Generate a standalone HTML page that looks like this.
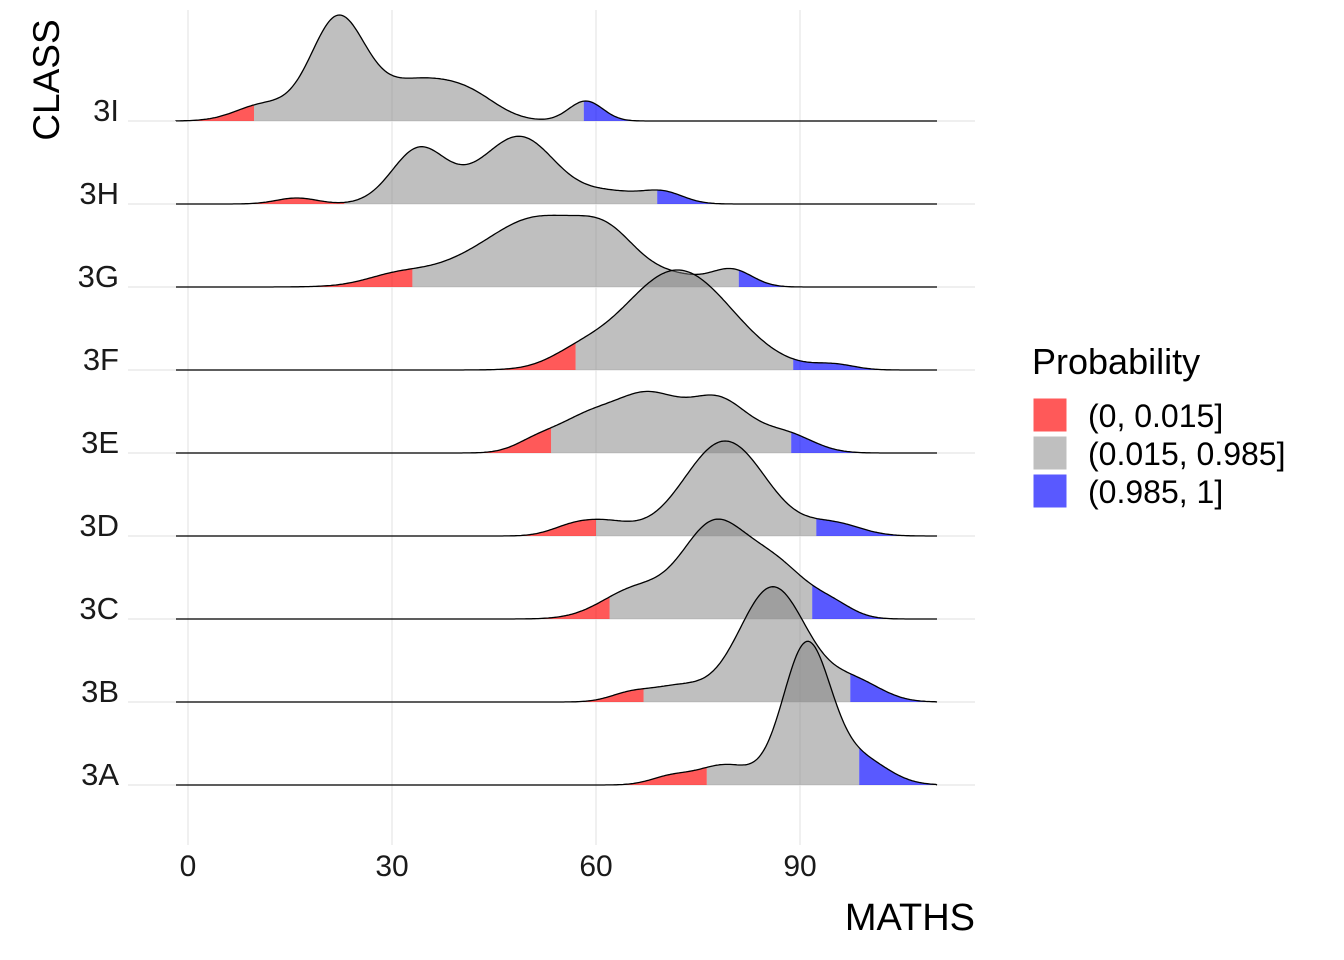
<!DOCTYPE html>
<html><head><meta charset="utf-8"><style>
body{margin:0;background:#fff;}
svg{display:block;font-family:"Liberation Sans",Arial,sans-serif;}
</style></head><body>
<svg id="s" width="1344" height="960" xmlns="http://www.w3.org/2000/svg">
<rect width="1344" height="960" fill="#fff"/>
<g stroke="#e5e5e5" stroke-width="1.2">
<line x1="188" y1="10" x2="188" y2="845"/><line x1="392" y1="10" x2="392" y2="845"/>
<line x1="596" y1="10" x2="596" y2="845"/><line x1="800" y1="10" x2="800" y2="845"/>
<line x1="128" y1="121" x2="975" y2="121"/><line x1="128" y1="204" x2="975" y2="204"/>
<line x1="128" y1="287" x2="975" y2="287"/><line x1="128" y1="370" x2="975" y2="370"/>
<line x1="128" y1="453" x2="975" y2="453"/><line x1="128" y1="536" x2="975" y2="536"/>
<line x1="128" y1="619" x2="975" y2="619"/><line x1="128" y1="702" x2="975" y2="702"/>
<line x1="128" y1="785" x2="975" y2="785"/>
</g>
<g id="ridges"></g>
<g font-size="31" fill="#1a1a1a" text-anchor="end">
<text x="119" y="121">3I</text><text x="119" y="204">3H</text><text x="119" y="287">3G</text>
<text x="119" y="370">3F</text><text x="119" y="453">3E</text><text x="119" y="536">3D</text>
<text x="119" y="619">3C</text><text x="119" y="702">3B</text><text x="119" y="785">3A</text>
</g>
<g font-size="30" fill="#1a1a1a" text-anchor="middle">
<text x="188" y="876">0</text><text x="392" y="876">30</text><text x="596" y="876">60</text><text x="800" y="876">90</text>
</g>
<text x="975" y="930" font-size="38" text-anchor="end" fill="#000">MATHS</text>
<text transform="translate(59,80) rotate(-90)" font-size="37" text-anchor="middle" fill="#000">CLASS</text>
<text x="1032" y="374" font-size="36" fill="#000">Probability</text>
<rect x="1033" y="398" width="34" height="34" fill="rgb(255,89,89)" stroke="#fff"/>
<rect x="1033" y="436" width="34" height="34" fill="rgb(191,191,191)" stroke="#fff"/>
<rect x="1033" y="474" width="34" height="34" fill="rgb(89,89,255)" stroke="#fff"/>
<g font-size="32" fill="#000">
<text x="1088" y="427">(0, 0.015]</text><text x="1088" y="465">(0.015, 0.985]</text><text x="1088" y="503">(0.985, 1]</text>
</g>
</svg>
<script>
var X=function(v){return 188+6.8*v;};
var data=[
 [121,[[22,4,100],[34,6,40],[11,4,16],[58.5,2.5,20],[42,4,15]],9.7,58.2],
 [204,[[34,4,55],[49,5,65],[42,4,10],[16,3,6],[62,5,12],[70,3,10]],23,69],
 [287,[[52,7,62],[62,4.5,40],[40,8,18],[80,3,17],[72,4,10],[30,4,6]],33,81],
 [370,[[72,8,100],[57,4,10],[95,3,5]],57,89],
 [453,[[68,4.5,50],[78,4.5,52],[59,5,36],[88,4,18],[51,3,8]],53.4,88.7],
 [536,[[79,6,95],[61,4,14],[56,3,6],[95,4,12]],60,92.4],
 [619,[[77,4.5,85],[86,5,55],[66,5,30],[95,3,10]],62,91.8],
 [702,[[86,5,115],[72,4,15],[65,3,8],[98,4,20]],67,97.4],
 [785,[[91,3.5,140],[79,4,20],[71,3,8],[99,4,25]],76.3,98.7]
];
var g=document.getElementById('ridges'),h='';
function f(c,v){var s=0;c.forEach(function(k){s+=k[2]*Math.exp(-0.5*Math.pow((v-k[0])/k[1],2));});return s;}
function seg(b,c,a,e,col){var p='M'+X(a).toFixed(1)+','+b;for(var v=a;v<=e+1e-9;v+=0.25){p+=' L'+X(v).toFixed(1)+','+(b-f(c,v)).toFixed(1);}
 p+=' L'+X(e).toFixed(1)+','+(b-f(c,e)).toFixed(1)+' L'+X(e).toFixed(1)+','+b+' Z';return '<path d="'+p+'" fill="'+col+'" stroke="none"/>';}
data.forEach(function(d){var b=d[0],c=d[1];
 h+=seg(b,c,-1.76,d[2],'rgba(255,0,0,0.65)');
 h+=seg(b,c,d[2],d[3],'rgba(128,128,128,0.5)');
 h+=seg(b,c,d[3],110,'rgba(0,0,255,0.65)');
 var p='M176,'+b;for(var v=-1.76;v<=110;v+=0.25){p+=' L'+X(v).toFixed(1)+','+(b-f(c,v)).toFixed(1);}
 p+=' L937,'+b;h+='<path d="'+p+'" fill="none" stroke="#000" stroke-width="1.3"/>';});
g.innerHTML=h;
</script>
</body></html>
